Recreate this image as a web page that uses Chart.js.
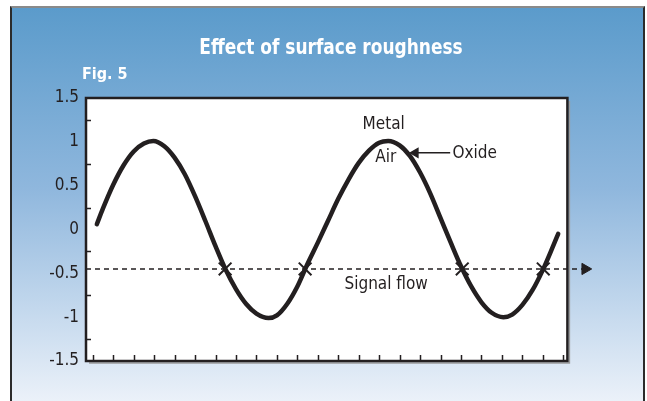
<!DOCTYPE html>
<html>
<head>
<meta charset="utf-8">
<script src="https://cdn.jsdelivr.net/npm/chart.js@4.4.1/dist/chart.umd.min.js"></script>
<style>
  html, body { margin: 0; padding: 0; background: #fff; }
  #wrap { position: relative; width: 647px; height: 401px; overflow: hidden; }
  #panel {
    position: absolute; left: 10px; top: 6px; width: 631px; height: 400px;
    border-left: 2px solid #2b2b2b; border-right: 2px solid #2b2b2b; border-top: 2px solid #8a8a8a;
    background: linear-gradient(#5b9bcb, #8fb7dd 45%, #eef3fa);
  }
  canvas { position: absolute; left: 0; top: 0; }
</style>
</head>
<body>
<div id="wrap">
  <div id="panel"></div>
  <canvas id="chart" width="647" height="401"></canvas>
</div>
<script>
// wave (x = position along the bottom ticks)
const waveX = [0.2, 0.5, 1.0, 1.5, 2.0, 2.5, 2.96, 3.5, 4.0, 4.5, 5.0, 5.5, 6.0, 6.5, 7.0, 7.5, 8.0, 8.59,
  9.0, 9.5, 10.0, 10.5, 11.0, 11.5, 12.0, 12.5, 13.0, 13.5, 14.0, 14.44,
  15.0, 15.5, 16.0, 16.5, 17.0, 17.5, 18.0, 18.5, 19.0, 19.5, 20.07, 20.5, 21.0, 21.5, 22.0, 22.5, 22.75];
const waveY = [0.06, 0.24, 0.51, 0.73, 0.89, 0.98, 1.01, 0.95, 0.82, 0.63, 0.38, 0.10, -0.19, -0.46, -0.68, -0.85, -0.96, -1.01,
  -0.98, -0.85, -0.65, -0.39, -0.15, 0.10, 0.35, 0.57, 0.76, 0.90, 0.99, 1.01,
  0.96, 0.84, 0.65, 0.41, 0.13, -0.15, -0.42, -0.65, -0.83, -0.95, -1.0, -0.97, -0.86, -0.69, -0.46, -0.19, -0.05];

const signalLevel = -0.45;
const signalStart = -0.33;
const signalEnd = 23.93;
const signalArrowX = 24.07;
const crossX = [6.47, 10.38, 18.06, 22.02];

const oxideArrowX = [17.47, 15.77];
const oxideArrowY = 0.875;

const noteText = ['Metal', 'Air', 'Oxide', 'Signal flow'];
const noteX = [14.22, 14.32, 18.67, 14.34];
const noteY = [1.20, 0.815, 0.867, -0.633];

const bottomTicks = Array.from({ length: 24 }, (_, i) => i);
const leftTicks = [1.25, 0.75, 0.25, -0.25, -0.75, -1.25];
const frameRight = 23.2;

const titleText = 'Effect of surface roughness';
const figText = 'Fig. 5';

const NARROW = '"Liberation Sans Narrow", "DejaVu Sans Condensed", "Roboto Condensed", "Arial Narrow", sans-serif';
const INK = '#231f20';

const decor = {
  id: 'decor',
  beforeDraw(chart) {
    const { ctx, chartArea: a, scales } = chart;
    const right = scales.x.getPixelForValue(frameRight);
    ctx.save();
    ctx.fillStyle = '#fff';
    ctx.fillRect(a.left, a.top, right - a.left, a.bottom - a.top);
    ctx.restore();
  },
  afterDatasetsDraw(chart) {
    const { ctx, chartArea: a, scales } = chart;
    const right = scales.x.getPixelForValue(frameRight);
    ctx.save();
    // shadow + frame
    ctx.strokeStyle = '#9a9a9a';
    ctx.lineWidth = 1.5;
    ctx.beginPath();
    ctx.moveTo(right + 2, a.top + 3);
    ctx.lineTo(right + 2, a.bottom + 2);
    ctx.lineTo(a.left + 3, a.bottom + 2);
    ctx.stroke();
    ctx.strokeStyle = INK;
    ctx.lineWidth = 2.5;
    ctx.strokeRect(a.left, a.top, right - a.left, a.bottom - a.top);
    // inner ticks
    ctx.lineWidth = 1.5;
    ctx.beginPath();
    bottomTicks.forEach(v => {
      const x = Math.round(scales.x.getPixelForValue(v)) + 0.5;
      ctx.moveTo(x, a.bottom);
      ctx.lineTo(x, a.bottom - 6);
    });
    leftTicks.forEach(v => {
      const y = Math.round(scales.y.getPixelForValue(v)) + 0.5;
      ctx.moveTo(a.left, y);
      ctx.lineTo(a.left + 5, y);
    });
    ctx.stroke();
    ctx.restore();
  },
  afterDraw(chart) {
    const { ctx, scales } = chart;
    ctx.save();
    ctx.fillStyle = '#fff';
    ctx.textAlign = 'center';
    ctx.textBaseline = 'middle';
    ctx.font = 'bold 21px ' + NARROW;
    ctx.save();
    ctx.translate(331, 49);
    ctx.scale(0.9, 1);
    ctx.fillText(titleText, 0, 0);
    ctx.restore();
    ctx.textAlign = 'left';
    ctx.font = 'bold 16px ' + NARROW;
    ctx.fillText(figText, 82, 75);

    ctx.fillStyle = INK;
    ctx.textAlign = 'center';
    ctx.font = '17px ' + NARROW;
    noteText.forEach((t, i) => {
      ctx.fillText(t, scales.x.getPixelForValue(noteX[i]), scales.y.getPixelForValue(noteY[i]));
    });
    ctx.restore();
  }
};

new Chart(document.getElementById('chart'), {
  type: 'line',
  data: {
    datasets: [
      {
        label: 'Surface',
        data: waveX.map((x, i) => ({ x, y: waveY[i] })),
        borderColor: INK,
        borderWidth: 4.5,
        cubicInterpolationMode: 'monotone',
        pointRadius: 0,
        borderCapStyle: 'round'
      },
      {
        label: 'Signal flow',
        data: [{ x: signalStart, y: signalLevel }, { x: signalEnd, y: signalLevel }],
        borderColor: INK,
        borderWidth: 1.5,
        borderDash: [5, 4],
        pointRadius: 0
      },
      {
        label: 'Signal arrow',
        data: [{ x: signalArrowX, y: signalLevel }],
        pointStyle: 'triangle',
        rotation: 90,
        pointRadius: 6.5,
        backgroundColor: INK,
        borderColor: INK,
        borderWidth: 1,
        showLine: false
      },
      {
        label: 'Crossings',
        data: crossX.map(x => ({ x, y: signalLevel })),
        pointStyle: 'crossRot',
        pointRadius: 9,
        borderColor: INK,
        borderWidth: 2,
        showLine: false
      },
      {
        label: 'Oxide',
        data: oxideArrowX.map(x => ({ x, y: oxideArrowY })),
        borderColor: INK,
        borderWidth: 1.5,
        pointRadius: [0, 5],
        pointStyle: 'triangle',
        rotation: -90,
        backgroundColor: INK
      }
    ]
  },
  options: {
    responsive: false,
    animation: false,
    layout: { padding: { left: 0, right: 53, top: 98, bottom: 40 } },
    plugins: { legend: { display: false }, tooltip: { enabled: false } },
    scales: {
      x: {
        type: 'linear',
        min: -0.33,
        max: 24.5,
        display: false
      },
      y: {
        min: -1.5,
        max: 1.5,
        afterFit: s => { s.width = 86; },
        grid: { display: false, drawTicks: false },
        border: { display: false },
        ticks: {
          stepSize: 0.5,
          padding: 7,
          color: INK,
          font: { family: NARROW, size: 17 },
          callback: v => String(+v.toFixed(2))
        }
      }
    }
  },
  plugins: [decor]
});
</script>
</body>
</html>
